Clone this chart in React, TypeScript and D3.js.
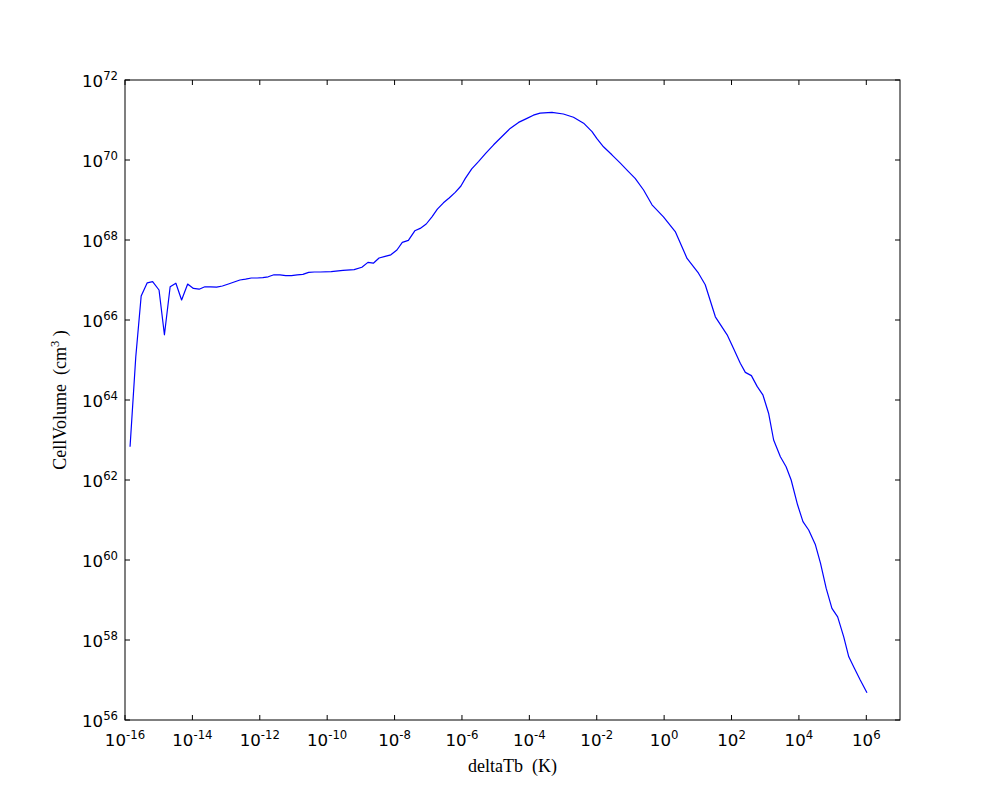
import React from "react";
import * as d3 from "d3";

// log10(deltaTb [K])
const logDeltaTb: number[] = [
  -15.85, -15.68, -15.52, -15.34, -15.18, -14.99, -14.83, -14.66, -14.49, -14.32,
  -14.14, -13.97, -13.8, -13.63, -13.46, -13.28, -13.11, -12.93, -12.76, -12.59,
  -12.42, -12.25, -12.08, -11.91, -11.75, -11.58, -11.4, -11.23, -11.06, -10.89,
  -10.72, -10.55, -10.38, -10.21, -9.88, -9.53, -9.2, -8.97, -8.79, -8.63,
  -8.46, -8.28, -8.11, -7.93, -7.77, -7.59, -7.4, -7.24, -7.06, -6.89,
  -6.73, -6.55, -6.38, -6.2, -6.03, -5.9, -5.71, -5.51, -5.29, -5.06,
  -4.82, -4.57, -4.32, -4.07, -3.88, -3.68, -3.33, -2.99, -2.69, -2.39,
  -2.14, -2.0, -1.8, -1.55, -1.3, -1.08, -0.86, -0.61, -0.36,
  -0.02, 0.33, 0.68, 1.02, 1.22, 1.52, 1.87, 2.06, 2.26, 2.41,
  2.59, 2.76, 2.93, 3.1, 3.25, 3.45, 3.62, 3.77, 3.96, 4.12,
  4.29, 4.49, 4.64, 4.81, 4.98, 5.15, 5.33, 5.48, 5.65, 5.82,
  6.02,
];

// log10(CellVolume [cm^3])
const logCellVolume: number[] = [
  62.83, 65.08, 66.6, 66.93, 66.96, 66.75, 65.63, 66.83, 66.92, 66.5,
  66.9, 66.79, 66.77, 66.83, 66.83, 66.82, 66.85, 66.9, 66.95, 67.0,
  67.02, 67.05, 67.05, 67.06, 67.08, 67.13, 67.13, 67.11, 67.11, 67.13,
  67.14, 67.19, 67.2, 67.2, 67.21, 67.24, 67.26, 67.32, 67.44, 67.42,
  67.55, 67.59, 67.63, 67.75, 67.94, 67.99, 68.23, 68.29, 68.4, 68.58,
  68.77, 68.93, 69.05, 69.19, 69.35, 69.54, 69.78, 69.96, 70.17, 70.38,
  70.58, 70.79, 70.94, 71.04, 71.12, 71.17, 71.19, 71.15, 71.07, 70.92,
  70.71, 70.54, 70.33, 70.13, 69.92, 69.73, 69.54, 69.25, 68.88,
  68.58, 68.21, 67.54, 67.17, 66.88, 66.08, 65.63, 65.29, 64.92, 64.69,
  64.61, 64.34, 64.13, 63.67, 63.0, 62.58, 62.33, 62.0, 61.38, 60.96,
  60.75, 60.38, 59.92, 59.29, 58.79, 58.58, 58.08, 57.58, 57.29, 57.0,
  56.68,
];

const xTickExponents: number[] = [-16, -14, -12, -10, -8, -6, -4, -2, 0, 2, 4, 6];
const yTickExponents: number[] = [56, 58, 60, 62, 64, 66, 68, 70, 72];

const W = 1000;
const H = 800;
const L = 125;
const R = 900;
const T = 80;
const B = 720;

export default function App() {
  const x = d3.scaleLog().domain([1e-16, 1e7]).range([L, R]);
  const y = d3.scaleLog().domain([1e56, 1e72]).range([B, T]);

  const pts: [number, number][] = logDeltaTb.map((lx, i) => [
    Math.pow(10, lx),
    Math.pow(10, logCellVolume[i]),
  ]);
  const line = d3
    .line<[number, number]>()
    .x((d) => x(d[0]))
    .y((d) => y(d[1]));

  const tickLen = 5;
  const tickFont = "DejaVu Sans, sans-serif";
  const fs = 16.67;
  const sfs = 11.7;

  return (
    <div style={{ position: "absolute", left: 0, top: 0 }}>
      <svg width={W} height={H} viewBox={`0 0 ${W} ${H}`} style={{ display: "block", background: "#fff" }}>
        <rect x={0} y={0} width={W} height={H} fill="#fff" />
        <path d={line(pts) || ""} fill="none" stroke="#0000ff" strokeWidth={1.2} strokeLinejoin="round" />
        <rect x={L} y={T} width={R - L} height={B - T} fill="none" stroke="#000" strokeWidth={1} />
        {xTickExponents.map((e) => {
          const px = x(Math.pow(10, e));
          return (
            <g key={"xt" + e}>
              <line x1={px} x2={px} y1={B} y2={B - tickLen} stroke="#000" />
              <line x1={px} x2={px} y1={T} y2={T + tickLen} stroke="#000" />
              <text x={px} y={746} textAnchor="middle" fontFamily={tickFont} fontSize={fs} fill="#000">
                <tspan>10</tspan>
                <tspan dy={-7} fontSize={sfs}>{String(e)}</tspan>
              </text>
            </g>
          );
        })}
        {yTickExponents.map((e) => {
          const py = y(Math.pow(10, e));
          return (
            <g key={"yt" + e}>
              <line x1={L} x2={L + tickLen} y1={py} y2={py} stroke="#000" />
              <line x1={R} x2={R - tickLen} y1={py} y2={py} stroke="#000" />
              <text x={118} y={py + 6.5} textAnchor="end" fontFamily={tickFont} fontSize={fs} fill="#000">
                <tspan>10</tspan>
                <tspan dy={-7} fontSize={sfs}>{String(e)}</tspan>
              </text>
            </g>
          );
        })}
        <text x={(L + R) / 2} y={772} textAnchor="middle" fontFamily="Liberation Serif, DejaVu Serif, serif" fontSize={18} fill="#000">
          deltaTb{"\u00a0\u00a0"}(K)
        </text>
        <text
          transform={`translate(66, ${(T + B) / 2}) rotate(-90)`}
          textAnchor="middle"
          fontFamily="Liberation Serif, DejaVu Serif, serif"
          fontSize={18}
          fill="#000"
        >
          <tspan>CellVolume{"\u00a0\u00a0"}(cm</tspan>
          <tspan dy={-7} fontSize={12.5}>3</tspan>
          <tspan dy={7}>{"\u00a0"})</tspan>
        </text>
      </svg>
    </div>
  );
}
